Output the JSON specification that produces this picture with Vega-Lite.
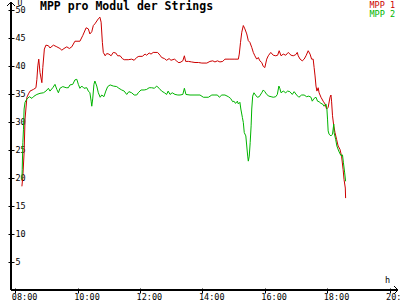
{
  "$schema": "https://vega.github.io/schema/vega-lite/v6.json",
  "width": 387,
  "height": 288,
  "autosize": {"type": "none"},
  "padding": {"left": 11, "top": 2, "right": 2, "bottom": 10},
  "background": "white",
  "title": {
    "text": "MPP pro Modul der Strings",
    "anchor": "start",
    "frame": "group",
    "font": "DejaVu Sans Mono",
    "fontSize": 11.5,
    "fontWeight": "bold",
    "color": "black",
    "offset": 0,
    "baseline": "alphabetic",
    "dx": 29,
    "dy": 21.5
  },
  "config": {
    "view": {"stroke": null},
    "axis": {
      "grid": false,
      "labelOverlap": false,
      "labelFont": "DejaVu Sans Mono",
      "labelFontSize": 8.5,
      "labelColor": "black",
      "tickColor": "black",
      "titleFont": "DejaVu Sans Mono",
      "titleFontSize": 8.5,
      "titleFontWeight": "normal",
      "titleColor": "black"
    },
    "legend": {
      "labelFont": "DejaVu Sans Mono",
      "labelFontSize": 8.5
    }
  },
  "data": {
    "values": [
      {"series": "MPP 1", "time": 8.21, "value": 18.5},
      {"series": "MPP 1", "time": 8.24, "value": 20.3},
      {"series": "MPP 1", "time": 8.28, "value": 24.5},
      {"series": "MPP 1", "time": 8.31, "value": 30.5},
      {"series": "MPP 1", "time": 8.37, "value": 34.4},
      {"series": "MPP 1", "time": 8.42, "value": 35.0},
      {"series": "MPP 1", "time": 8.47, "value": 35.5},
      {"series": "MPP 1", "time": 8.58, "value": 35.8},
      {"series": "MPP 1", "time": 8.66, "value": 36.1},
      {"series": "MPP 1", "time": 8.69, "value": 37.6},
      {"series": "MPP 1", "time": 8.72, "value": 40.0},
      {"series": "MPP 1", "time": 8.75, "value": 41.2},
      {"series": "MPP 1", "time": 8.79, "value": 38.8},
      {"series": "MPP 1", "time": 8.85, "value": 37.0},
      {"series": "MPP 1", "time": 8.88, "value": 39.7},
      {"series": "MPP 1", "time": 8.93, "value": 43.0},
      {"series": "MPP 1", "time": 8.98, "value": 43.7},
      {"series": "MPP 1", "time": 9.06, "value": 43.6},
      {"series": "MPP 1", "time": 9.11, "value": 43.2},
      {"series": "MPP 1", "time": 9.22, "value": 43.7},
      {"series": "MPP 1", "time": 9.33, "value": 43.4},
      {"series": "MPP 1", "time": 9.43, "value": 43.1},
      {"series": "MPP 1", "time": 9.49, "value": 42.8},
      {"series": "MPP 1", "time": 9.56, "value": 43.1},
      {"series": "MPP 1", "time": 9.65, "value": 43.4},
      {"series": "MPP 1", "time": 9.73, "value": 43.1},
      {"series": "MPP 1", "time": 9.81, "value": 43.4},
      {"series": "MPP 1", "time": 9.91, "value": 44.4},
      {"series": "MPP 1", "time": 10.07, "value": 44.4},
      {"series": "MPP 1", "time": 10.16, "value": 45.4},
      {"series": "MPP 1", "time": 10.27, "value": 46.8},
      {"series": "MPP 1", "time": 10.34, "value": 46.6},
      {"series": "MPP 1", "time": 10.39, "value": 45.7},
      {"series": "MPP 1", "time": 10.45, "value": 46.1},
      {"series": "MPP 1", "time": 10.5, "value": 47.2},
      {"series": "MPP 1", "time": 10.55, "value": 47.5},
      {"series": "MPP 1", "time": 10.66, "value": 48.4},
      {"series": "MPP 1", "time": 10.71, "value": 48.7},
      {"series": "MPP 1", "time": 10.75, "value": 47.8},
      {"series": "MPP 1", "time": 10.79, "value": 44.2},
      {"series": "MPP 1", "time": 10.82, "value": 42.4},
      {"series": "MPP 1", "time": 10.88, "value": 41.8},
      {"series": "MPP 1", "time": 10.93, "value": 42.2},
      {"series": "MPP 1", "time": 11.0, "value": 42.1},
      {"series": "MPP 1", "time": 11.07, "value": 41.8},
      {"series": "MPP 1", "time": 11.14, "value": 42.4},
      {"series": "MPP 1", "time": 11.22, "value": 42.3},
      {"series": "MPP 1", "time": 11.28, "value": 41.8},
      {"series": "MPP 1", "time": 11.36, "value": 41.8},
      {"series": "MPP 1", "time": 11.43, "value": 41.3},
      {"series": "MPP 1", "time": 11.49, "value": 41.1},
      {"series": "MPP 1", "time": 11.62, "value": 41.1},
      {"series": "MPP 1", "time": 11.73, "value": 41.2},
      {"series": "MPP 1", "time": 11.81, "value": 41.0},
      {"series": "MPP 1", "time": 11.89, "value": 41.5},
      {"series": "MPP 1", "time": 11.96, "value": 41.7},
      {"series": "MPP 1", "time": 12.07, "value": 41.7},
      {"series": "MPP 1", "time": 12.16, "value": 42.1},
      {"series": "MPP 1", "time": 12.21, "value": 41.9},
      {"series": "MPP 1", "time": 12.29, "value": 42.3},
      {"series": "MPP 1", "time": 12.35, "value": 42.1},
      {"series": "MPP 1", "time": 12.42, "value": 42.4},
      {"series": "MPP 1", "time": 12.56, "value": 42.4},
      {"series": "MPP 1", "time": 12.64, "value": 41.9},
      {"series": "MPP 1", "time": 12.69, "value": 41.5},
      {"series": "MPP 1", "time": 12.78, "value": 41.3},
      {"series": "MPP 1", "time": 12.85, "value": 41.0},
      {"series": "MPP 1", "time": 12.93, "value": 41.3},
      {"series": "MPP 1", "time": 12.99, "value": 41.0},
      {"series": "MPP 1", "time": 13.1, "value": 41.2},
      {"series": "MPP 1", "time": 13.17, "value": 40.9},
      {"series": "MPP 1", "time": 13.22, "value": 40.6},
      {"series": "MPP 1", "time": 13.28, "value": 40.6},
      {"series": "MPP 1", "time": 13.37, "value": 40.9},
      {"series": "MPP 1", "time": 13.42, "value": 41.8},
      {"series": "MPP 1", "time": 13.46, "value": 40.8},
      {"series": "MPP 1", "time": 13.55, "value": 40.8},
      {"series": "MPP 1", "time": 13.65, "value": 40.7},
      {"series": "MPP 1", "time": 13.76, "value": 40.6},
      {"series": "MPP 1", "time": 13.87, "value": 40.6},
      {"series": "MPP 1", "time": 13.98, "value": 40.5},
      {"series": "MPP 1", "time": 14.14, "value": 40.5},
      {"series": "MPP 1", "time": 14.24, "value": 40.8},
      {"series": "MPP 1", "time": 14.33, "value": 40.9},
      {"series": "MPP 1", "time": 14.4, "value": 40.7},
      {"series": "MPP 1", "time": 14.48, "value": 40.9},
      {"series": "MPP 1", "time": 14.56, "value": 40.7},
      {"series": "MPP 1", "time": 14.65, "value": 40.8},
      {"series": "MPP 1", "time": 14.72, "value": 41.2},
      {"series": "MPP 1", "time": 14.88, "value": 41.2},
      {"series": "MPP 1", "time": 15.04, "value": 41.2},
      {"series": "MPP 1", "time": 15.15, "value": 41.2},
      {"series": "MPP 1", "time": 15.18, "value": 42.1},
      {"series": "MPP 1", "time": 15.22, "value": 44.2},
      {"series": "MPP 1", "time": 15.26, "value": 46.0},
      {"series": "MPP 1", "time": 15.31, "value": 47.2},
      {"series": "MPP 1", "time": 15.36, "value": 46.6},
      {"series": "MPP 1", "time": 15.42, "value": 45.7},
      {"series": "MPP 1", "time": 15.47, "value": 44.5},
      {"series": "MPP 1", "time": 15.52, "value": 44.2},
      {"series": "MPP 1", "time": 15.58, "value": 43.3},
      {"series": "MPP 1", "time": 15.63, "value": 42.4},
      {"series": "MPP 1", "time": 15.68, "value": 41.8},
      {"series": "MPP 1", "time": 15.74, "value": 41.2},
      {"series": "MPP 1", "time": 15.79, "value": 41.5},
      {"series": "MPP 1", "time": 15.84, "value": 40.9},
      {"series": "MPP 1", "time": 15.9, "value": 40.6},
      {"series": "MPP 1", "time": 15.95, "value": 39.9},
      {"series": "MPP 1", "time": 16.0, "value": 39.7},
      {"series": "MPP 1", "time": 16.06, "value": 41.2},
      {"series": "MPP 1", "time": 16.11, "value": 41.8},
      {"series": "MPP 1", "time": 16.19, "value": 42.4},
      {"series": "MPP 1", "time": 16.27, "value": 41.9},
      {"series": "MPP 1", "time": 16.35, "value": 41.8},
      {"series": "MPP 1", "time": 16.41, "value": 41.9},
      {"series": "MPP 1", "time": 16.46, "value": 42.7},
      {"series": "MPP 1", "time": 16.52, "value": 41.8},
      {"series": "MPP 1", "time": 16.59, "value": 42.1},
      {"series": "MPP 1", "time": 16.67, "value": 41.9},
      {"series": "MPP 1", "time": 16.75, "value": 42.4},
      {"series": "MPP 1", "time": 16.84, "value": 41.9},
      {"series": "MPP 1", "time": 16.91, "value": 41.8},
      {"series": "MPP 1", "time": 16.99, "value": 42.0},
      {"series": "MPP 1", "time": 17.04, "value": 42.4},
      {"series": "MPP 1", "time": 17.07, "value": 41.8},
      {"series": "MPP 1", "time": 17.13, "value": 41.2},
      {"series": "MPP 1", "time": 17.2, "value": 40.9},
      {"series": "MPP 1", "time": 17.26, "value": 41.2},
      {"series": "MPP 1", "time": 17.32, "value": 41.8},
      {"series": "MPP 1", "time": 17.39, "value": 42.7},
      {"series": "MPP 1", "time": 17.45, "value": 42.1},
      {"series": "MPP 1", "time": 17.5, "value": 41.2},
      {"series": "MPP 1", "time": 17.55, "value": 41.2},
      {"series": "MPP 1", "time": 17.58, "value": 39.7},
      {"series": "MPP 1", "time": 17.61, "value": 38.2},
      {"series": "MPP 1", "time": 17.64, "value": 36.4},
      {"series": "MPP 1", "time": 17.67, "value": 35.5},
      {"series": "MPP 1", "time": 17.71, "value": 36.1},
      {"series": "MPP 1", "time": 17.74, "value": 35.2},
      {"series": "MPP 1", "time": 17.8, "value": 34.4},
      {"series": "MPP 1", "time": 17.87, "value": 33.7},
      {"series": "MPP 1", "time": 17.93, "value": 33.2},
      {"series": "MPP 1", "time": 17.98, "value": 32.3},
      {"series": "MPP 1", "time": 18.03, "value": 32.6},
      {"series": "MPP 1", "time": 18.09, "value": 34.4},
      {"series": "MPP 1", "time": 18.12, "value": 34.8},
      {"series": "MPP 1", "time": 18.14, "value": 33.7},
      {"series": "MPP 1", "time": 18.17, "value": 31.1},
      {"series": "MPP 1", "time": 18.21, "value": 29.3},
      {"series": "MPP 1", "time": 18.25, "value": 28.1},
      {"series": "MPP 1", "time": 18.3, "value": 26.9},
      {"series": "MPP 1", "time": 18.35, "value": 25.7},
      {"series": "MPP 1", "time": 18.41, "value": 25.1},
      {"series": "MPP 1", "time": 18.46, "value": 23.9},
      {"series": "MPP 1", "time": 18.51, "value": 21.5},
      {"series": "MPP 1", "time": 18.54, "value": 19.7},
      {"series": "MPP 1", "time": 18.58, "value": 18.2},
      {"series": "MPP 1", "time": 18.59, "value": 16.4},
      {"series": "MPP 2", "time": 8.21, "value": 19.7},
      {"series": "MPP 2", "time": 8.22, "value": 21.5},
      {"series": "MPP 2", "time": 8.24, "value": 26.3},
      {"series": "MPP 2", "time": 8.26, "value": 28.7},
      {"series": "MPP 2", "time": 8.28, "value": 32.3},
      {"series": "MPP 2", "time": 8.31, "value": 33.5},
      {"series": "MPP 2", "time": 8.37, "value": 34.1},
      {"series": "MPP 2", "time": 8.45, "value": 34.5},
      {"series": "MPP 2", "time": 8.53, "value": 34.2},
      {"series": "MPP 2", "time": 8.6, "value": 34.6},
      {"series": "MPP 2", "time": 8.69, "value": 34.9},
      {"series": "MPP 2", "time": 8.79, "value": 35.1},
      {"series": "MPP 2", "time": 8.9, "value": 35.2},
      {"series": "MPP 2", "time": 8.98, "value": 35.5},
      {"series": "MPP 2", "time": 9.06, "value": 36.0},
      {"series": "MPP 2", "time": 9.11, "value": 35.5},
      {"series": "MPP 2", "time": 9.2, "value": 36.1},
      {"series": "MPP 2", "time": 9.27, "value": 36.7},
      {"series": "MPP 2", "time": 9.33, "value": 35.8},
      {"series": "MPP 2", "time": 9.38, "value": 35.2},
      {"series": "MPP 2", "time": 9.43, "value": 36.0},
      {"series": "MPP 2", "time": 9.52, "value": 36.3},
      {"series": "MPP 2", "time": 9.63, "value": 36.1},
      {"series": "MPP 2", "time": 9.7, "value": 36.1},
      {"series": "MPP 2", "time": 9.75, "value": 36.6},
      {"series": "MPP 2", "time": 9.84, "value": 36.7},
      {"series": "MPP 2", "time": 9.91, "value": 37.5},
      {"series": "MPP 2", "time": 9.97, "value": 37.6},
      {"series": "MPP 2", "time": 10.02, "value": 36.7},
      {"series": "MPP 2", "time": 10.07, "value": 36.0},
      {"series": "MPP 2", "time": 10.13, "value": 36.4},
      {"series": "MPP 2", "time": 10.2, "value": 36.0},
      {"series": "MPP 2", "time": 10.29, "value": 36.1},
      {"series": "MPP 2", "time": 10.34, "value": 35.5},
      {"series": "MPP 2", "time": 10.39, "value": 35.2},
      {"series": "MPP 2", "time": 10.43, "value": 33.7},
      {"series": "MPP 2", "time": 10.45, "value": 32.8},
      {"series": "MPP 2", "time": 10.48, "value": 34.1},
      {"series": "MPP 2", "time": 10.52, "value": 36.7},
      {"series": "MPP 2", "time": 10.55, "value": 37.3},
      {"series": "MPP 2", "time": 10.61, "value": 36.4},
      {"series": "MPP 2", "time": 10.66, "value": 35.2},
      {"series": "MPP 2", "time": 10.72, "value": 34.4},
      {"series": "MPP 2", "time": 10.77, "value": 34.8},
      {"series": "MPP 2", "time": 10.84, "value": 34.5},
      {"series": "MPP 2", "time": 10.9, "value": 35.5},
      {"series": "MPP 2", "time": 10.96, "value": 36.3},
      {"series": "MPP 2", "time": 11.04, "value": 36.6},
      {"series": "MPP 2", "time": 11.14, "value": 36.4},
      {"series": "MPP 2", "time": 11.25, "value": 36.3},
      {"series": "MPP 2", "time": 11.32, "value": 36.0},
      {"series": "MPP 2", "time": 11.41, "value": 35.7},
      {"series": "MPP 2", "time": 11.49, "value": 35.5},
      {"series": "MPP 2", "time": 11.57, "value": 34.9},
      {"series": "MPP 2", "time": 11.64, "value": 35.4},
      {"series": "MPP 2", "time": 11.73, "value": 35.2},
      {"series": "MPP 2", "time": 11.81, "value": 34.8},
      {"series": "MPP 2", "time": 11.89, "value": 34.8},
      {"series": "MPP 2", "time": 11.94, "value": 35.2},
      {"series": "MPP 2", "time": 12.03, "value": 35.7},
      {"series": "MPP 2", "time": 12.13, "value": 35.7},
      {"series": "MPP 2", "time": 12.21, "value": 35.8},
      {"series": "MPP 2", "time": 12.29, "value": 36.1},
      {"series": "MPP 2", "time": 12.37, "value": 36.1},
      {"series": "MPP 2", "time": 12.46, "value": 36.0},
      {"series": "MPP 2", "time": 12.53, "value": 36.4},
      {"series": "MPP 2", "time": 12.61, "value": 36.0},
      {"series": "MPP 2", "time": 12.69, "value": 35.5},
      {"series": "MPP 2", "time": 12.78, "value": 35.2},
      {"series": "MPP 2", "time": 12.85, "value": 34.9},
      {"series": "MPP 2", "time": 12.9, "value": 35.5},
      {"series": "MPP 2", "time": 12.96, "value": 34.9},
      {"series": "MPP 2", "time": 13.03, "value": 35.2},
      {"series": "MPP 2", "time": 13.12, "value": 34.9},
      {"series": "MPP 2", "time": 13.21, "value": 34.8},
      {"series": "MPP 2", "time": 13.28, "value": 34.8},
      {"series": "MPP 2", "time": 13.37, "value": 34.9},
      {"series": "MPP 2", "time": 13.42, "value": 36.0},
      {"series": "MPP 2", "time": 13.47, "value": 34.9},
      {"series": "MPP 2", "time": 13.6, "value": 34.8},
      {"series": "MPP 2", "time": 13.76, "value": 34.8},
      {"series": "MPP 2", "time": 13.92, "value": 34.8},
      {"series": "MPP 2", "time": 14.03, "value": 34.4},
      {"series": "MPP 2", "time": 14.19, "value": 34.4},
      {"series": "MPP 2", "time": 14.3, "value": 34.8},
      {"series": "MPP 2", "time": 14.4, "value": 34.8},
      {"series": "MPP 2", "time": 14.48, "value": 34.8},
      {"series": "MPP 2", "time": 14.54, "value": 34.4},
      {"series": "MPP 2", "time": 14.62, "value": 34.8},
      {"series": "MPP 2", "time": 14.72, "value": 34.8},
      {"series": "MPP 2", "time": 14.83, "value": 34.5},
      {"series": "MPP 2", "time": 14.9, "value": 34.2},
      {"series": "MPP 2", "time": 14.97, "value": 33.6},
      {"series": "MPP 2", "time": 15.01, "value": 33.7},
      {"series": "MPP 2", "time": 15.06, "value": 33.3},
      {"series": "MPP 2", "time": 15.12, "value": 33.7},
      {"series": "MPP 2", "time": 15.15, "value": 33.2},
      {"series": "MPP 2", "time": 15.2, "value": 33.5},
      {"series": "MPP 2", "time": 15.23, "value": 32.3},
      {"series": "MPP 2", "time": 15.28, "value": 30.8},
      {"series": "MPP 2", "time": 15.31, "value": 29.9},
      {"series": "MPP 2", "time": 15.34, "value": 28.1},
      {"series": "MPP 2", "time": 15.39, "value": 27.5},
      {"series": "MPP 2", "time": 15.42, "value": 25.7},
      {"series": "MPP 2", "time": 15.45, "value": 23.9},
      {"series": "MPP 2", "time": 15.47, "value": 23.0},
      {"series": "MPP 2", "time": 15.5, "value": 23.9},
      {"series": "MPP 2", "time": 15.53, "value": 26.3},
      {"series": "MPP 2", "time": 15.56, "value": 29.3},
      {"series": "MPP 2", "time": 15.58, "value": 32.3},
      {"series": "MPP 2", "time": 15.61, "value": 34.6},
      {"series": "MPP 2", "time": 15.65, "value": 35.2},
      {"series": "MPP 2", "time": 15.7, "value": 34.8},
      {"series": "MPP 2", "time": 15.76, "value": 34.4},
      {"series": "MPP 2", "time": 15.82, "value": 34.5},
      {"series": "MPP 2", "time": 15.9, "value": 35.2},
      {"series": "MPP 2", "time": 15.95, "value": 35.7},
      {"series": "MPP 2", "time": 16.0, "value": 35.4},
      {"series": "MPP 2", "time": 16.06, "value": 34.9},
      {"series": "MPP 2", "time": 16.13, "value": 34.6},
      {"series": "MPP 2", "time": 16.2, "value": 34.5},
      {"series": "MPP 2", "time": 16.27, "value": 34.4},
      {"series": "MPP 2", "time": 16.35, "value": 34.5},
      {"series": "MPP 2", "time": 16.4, "value": 34.9},
      {"series": "MPP 2", "time": 16.45, "value": 36.4},
      {"series": "MPP 2", "time": 16.48, "value": 36.0},
      {"series": "MPP 2", "time": 16.52, "value": 35.2},
      {"series": "MPP 2", "time": 16.59, "value": 35.5},
      {"series": "MPP 2", "time": 16.67, "value": 35.2},
      {"series": "MPP 2", "time": 16.73, "value": 35.5},
      {"series": "MPP 2", "time": 16.8, "value": 35.4},
      {"series": "MPP 2", "time": 16.88, "value": 34.9},
      {"series": "MPP 2", "time": 16.94, "value": 35.4},
      {"series": "MPP 2", "time": 17.02, "value": 34.8},
      {"series": "MPP 2", "time": 17.09, "value": 34.4},
      {"series": "MPP 2", "time": 17.18, "value": 34.8},
      {"series": "MPP 2", "time": 17.26, "value": 34.8},
      {"series": "MPP 2", "time": 17.34, "value": 34.5},
      {"series": "MPP 2", "time": 17.41, "value": 34.6},
      {"series": "MPP 2", "time": 17.48, "value": 34.4},
      {"series": "MPP 2", "time": 17.52, "value": 33.7},
      {"series": "MPP 2", "time": 17.58, "value": 34.2},
      {"series": "MPP 2", "time": 17.64, "value": 34.4},
      {"series": "MPP 2", "time": 17.69, "value": 33.7},
      {"series": "MPP 2", "time": 17.74, "value": 33.6},
      {"series": "MPP 2", "time": 17.8, "value": 33.3},
      {"series": "MPP 2", "time": 17.85, "value": 33.2},
      {"series": "MPP 2", "time": 17.9, "value": 32.8},
      {"series": "MPP 2", "time": 17.96, "value": 33.2},
      {"series": "MPP 2", "time": 17.99, "value": 32.3},
      {"series": "MPP 2", "time": 18.01, "value": 30.5},
      {"series": "MPP 2", "time": 18.03, "value": 28.4},
      {"series": "MPP 2", "time": 18.06, "value": 27.8},
      {"series": "MPP 2", "time": 18.12, "value": 27.5},
      {"series": "MPP 2", "time": 18.17, "value": 27.8},
      {"series": "MPP 2", "time": 18.21, "value": 29.6},
      {"series": "MPP 2", "time": 18.22, "value": 28.1},
      {"series": "MPP 2", "time": 18.27, "value": 26.9},
      {"series": "MPP 2", "time": 18.31, "value": 25.7},
      {"series": "MPP 2", "time": 18.37, "value": 24.8},
      {"series": "MPP 2", "time": 18.44, "value": 24.0},
      {"series": "MPP 2", "time": 18.49, "value": 24.1},
      {"series": "MPP 2", "time": 18.52, "value": 22.7},
      {"series": "MPP 2", "time": 18.56, "value": 20.9},
      {"series": "MPP 2", "time": 18.59, "value": 19.4}
    ]
  },
  "layer": [
    {
      "mark": {"type": "rule", "color": "black", "strokeWidth": 1},
      "encoding": {"y": {"datum": 0, "type": "quantitative", "title": "U"}}
    },
    {
      "mark": {"type": "rule", "color": "black", "strokeWidth": 1},
      "encoding": {"x": {"datum": 7.86, "type": "quantitative", "title": "h"}}
    },
    {
      "mark": {"type": "line", "strokeWidth": 1, "interpolate": "linear"},
      "encoding": {
        "x": {
          "field": "time",
          "type": "quantitative",
          "title": "h",
          "scale": {"domain": [7.86, 20.27], "nice": false, "zero": false},
          "axis": {
            "values": [8, 10, 12, 14, 16, 18, 20],
            "tickCount": 20,
            "labelExpr": "(datum.value < 10 ? '0' : '') + datum.value + ':00'",
            "domain": false,
            "offset": -2,
            "tickSize": 5,
            "labelPadding": -1,
            "labelAlign": "left",
            "labelOffset": -4,
            "labelFlush": false,
            "labelOverlap": false,
            "labelBound": false,
            "titleAnchor": "start",
            "titleX": 376,
            "titleY": -4,
            "titleBaseline": "bottom",
            "titleAlign": "center"
          }
        },
        "y": {
          "field": "value",
          "type": "quantitative",
          "title": "U",
          "scale": {"domain": [0, 51.4], "nice": false, "zero": false},
          "axis": {
            "values": [5, 10, 15, 20, 25, 30, 35, 40, 45, 50],
            "tickCount": 20,
            "domain": false,
            "offset": -3,
            "tickSize": 6,
            "labelAlign": "left",
            "labelPadding": -7,
            "labelBaseline": "middle",
            "labelOverlap": false,
            "labelFlush": false,
            "labelBound": false,
            "titleAngle": 0,
            "titleAnchor": "start",
            "titleFontSize": 8,
            "titleX": 3,
            "titleY": -2.5,
            "titleAlign": "left",
            "titleBaseline": "top"
          }
        },
        "color": {
          "field": "series",
          "type": "nominal",
          "scale": {"domain": ["MPP 1", "MPP 2"], "range": ["#cc0000", "#00b400"]},
          "legend": {
            "title": null,
            "orient": "none",
            "legendX": 350,
            "legendY": -1,
            "padding": 0,
            "symbolSize": 0,
            "symbolStrokeWidth": 0,
            "symbolOpacity": 0,
            "labelOffset": 0,
            "rowPadding": -2,
            "encode": {"labels": {"update": {"fill": {"scale": "color", "field": "value"}}}}
          }
        }
      }
    },
    {
      "mark": {"type": "point", "shape": "M-1,-1L0,0L-1,1", "filled": false, "color": "black", "strokeWidth": 1, "size": 64},
      "encoding": {
        "x": {"datum": 20.27, "type": "quantitative", "title": "h"},
        "y": {"datum": 0, "type": "quantitative", "title": "U"}
      }
    },
    {
      "mark": {"type": "point", "shape": "M-1,1L0,0L1,1", "filled": false, "color": "black", "strokeWidth": 1, "size": 64},
      "encoding": {
        "x": {"datum": 7.86, "type": "quantitative", "title": "h"},
        "y": {"datum": 51.4, "type": "quantitative", "title": "U"}
      }
    }
  ]
}
